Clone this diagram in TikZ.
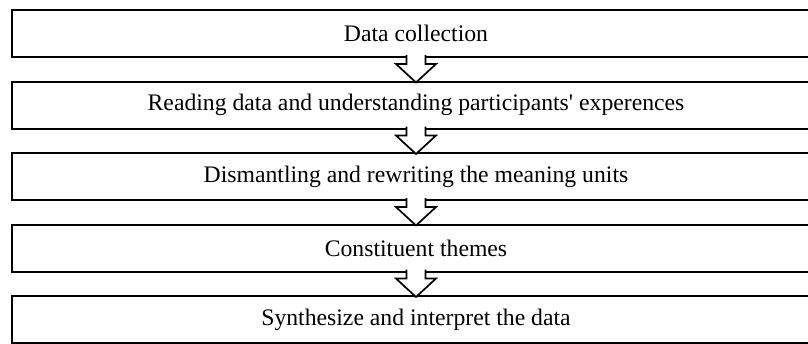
\documentclass[tikz,border=0pt]{standalone}
\usepackage{fontspec}
\newfontfamily\boxfont{Liberation Serif}
\begin{document}
\begin{tikzpicture}[x=1pt,y=-1pt,
  stepbox/.style={draw=black, line width=2pt, minimum width=808pt,
    minimum height=47pt, inner sep=0pt, outer sep=0pt,
    font=\boxfont\fontsize{23.7}{28}\selectfont},
  flowarrow/.style={draw=black, fill=white, line width=1.7pt, line join=miter}]
\useasboundingbox (0,0) rectangle (808,343);
\clip (0,0) rectangle (808,343);
% process steps
\node[stepbox] (b1) at (416,33.5)  {Data collection};
\node[stepbox] (b2) at (416,105)   {Reading data and understanding participants' experences};
\node[stepbox] (b3) at (416,176.5) {Dismantling and rewriting the meaning units};
\node[stepbox] (b4) at (416,248)   {Constituent themes};
\node[stepbox] (b5) at (416,319.5) {Synthesize and interpret the data};
% hollow block arrows between consecutive steps
\foreach \a/\b in {b1/b2, b2/b3, b3/b4, b4/b5}{
  \path[flowarrow]
    ([shift={(-9.5,-2)}]\a.south) -- ([shift={(-9.5,7)}]\a.south)
    -- ([shift={(-20,7)}]\a.south) -- ([shift={(0,1)}]\b.north)
    -- ([shift={(20,7)}]\a.south) -- ([shift={(9.5,7)}]\a.south)
    -- ([shift={(9.5,-2)}]\a.south);
}
\end{tikzpicture}
\end{document}
